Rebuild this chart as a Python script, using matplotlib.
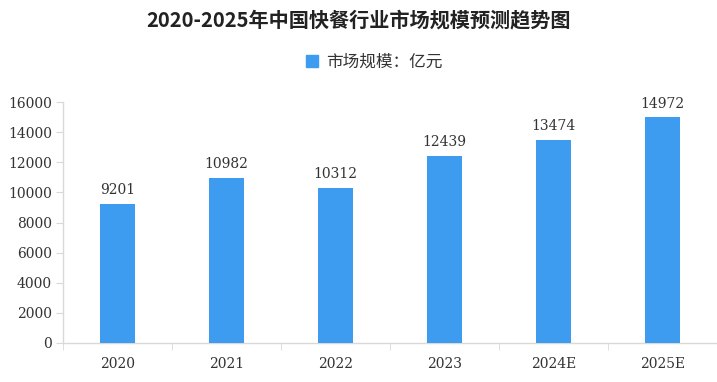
import matplotlib
matplotlib.use("Agg")
import matplotlib.pyplot as plt
from matplotlib.patches import Patch

categories = ["2020", "2021", "2022", "2023", "2024E", "2025E"]
values = [9201, 10982, 10312, 12439, 13474, 14972]
yticks = [0, 2000, 4000, 6000, 8000, 10000, 12000, 14000, 16000]
title = "2020-2025年中国快餐行业市场规模预测趋势图"
series_name = "市场规模：亿元"

plt.rcParams['font.family'] = ['Noto Sans CJK SC', 'DejaVu Sans']
num_font = ['DejaVu Serif']
bar_color = "#3d9bf0"
axis_color = "#d9d9d9"
text_color = "#333333"

fig = plt.figure(figsize=(7.17, 3.82), dpi=100)
ax = fig.add_axes([63/717, 1-343/382, (717-63)/717, (343-102)/382])

x = list(range(len(categories)))
bars = ax.bar(x, values, width=0.32, color=bar_color, zorder=3)
for xi, v in zip(x, values):
    ax.annotate(str(v), (xi, v), xytext=(0, 5), textcoords="offset points",
                ha="center", va="bottom", fontsize=10, family=num_font, color=text_color)

ax.set_xlim(-0.5, 5.445)
ax.set_ylim(0, 16000)
ax.set_yticks(yticks)
ax.set_yticklabels([str(t) for t in yticks], family=num_font, fontsize=10, color=text_color)
ax.set_xticks(x)
ax.set_xticklabels(categories, family=num_font, fontsize=10, color=text_color)
ax.set_xticks([i + 0.5 for i in range(-1, len(categories))], minor=True)
ax.tick_params(axis='x', which='major', length=0, pad=10)
ax.tick_params(axis='x', which='minor', length=5, color=axis_color, direction='out')
ax.tick_params(axis='y', length=5, color=axis_color, pad=3)
for s in ["top", "right"]:
    ax.spines[s].set_visible(False)
for s in ["left", "bottom"]:
    ax.spines[s].set_color(axis_color)
    ax.spines[s].set_linewidth(1.0)

fig.text(0.5, 1-20/382, title, ha="center", va="center", fontsize=14.5, fontweight="bold", color="#222222")
fig.legend(handles=[Patch(color=bar_color, label=series_name)], loc="center",
           bbox_to_anchor=(0.522, 1-62/382), frameon=False, fontsize=12,
           handlelength=0.7, handleheight=0.7, handletextpad=0.5, labelcolor=text_color)

fig.savefig("out.png", dpi=100)
